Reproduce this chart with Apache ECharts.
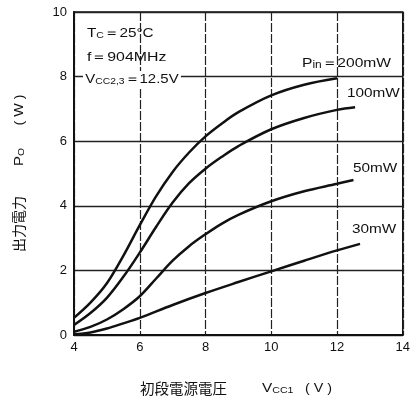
<!DOCTYPE html>
<html><head><meta charset="utf-8">
<script src="https://cdn.jsdelivr.net/npm/echarts@6/dist/echarts.min.js"></script>
<style>html,body{margin:0;padding:0;background:#fff}#c{width:413px;height:410px}</style>
</head><body><div id="c"></div>
<script>
const xTicks = [4, 6, 8, 10, 12, 14];
const yTicks = [0, 2, 4, 6, 8, 10];
const p200 = [[4,0.53],[4.5,1.0],[5,1.6],[5.5,2.45],[6,3.4],[6.5,4.3],[7,5.05],[7.5,5.65],[8,6.15],[8.5,6.55],[9,6.9],[10,7.42],[11,7.75],[12,7.95]];
const p100 = [[4,0.31],[4.5,0.68],[5,1.15],[5.5,1.8],[6,2.55],[6.5,3.35],[7,4.1],[7.5,4.7],[8,5.15],[8.5,5.52],[9,5.85],[10,6.37],[11,6.72],[12,6.97],[12.55,7.05]];
const p50 = [[4,0.1],[4.5,0.25],[5,0.48],[5.5,0.8],[6,1.2],[6.5,1.75],[7,2.3],[7.5,2.75],[8,3.12],[8.5,3.45],[9,3.72],[10,4.14],[11,4.45],[12,4.68],[12.5,4.8]];
const p30 = [[4,0.02],[4.5,0.08],[5,0.2],[5.5,0.36],[6,0.53],[7,0.93],[8,1.3],[9,1.64],[10,1.97],[11,2.3],[12,2.62],[12.7,2.82]];
const seriesNames = ['200mW', '100mW', '50mW', '30mW'];

const font = 'Liberation Sans, Arial, sans-serif';
const cjk = 'Noto Sans CJK JP';
const chart = echarts.init(document.getElementById('c'));
const mk = (name, data) => ({
  name, type: 'line', data, smooth: 0.35, symbol: 'none',
  lineStyle: {color: '#111', width: 2.5}, z: 5
});
const sub = (sz, pad) => ({fontSize: sz, fontFamily: font, fill: '#111', padding: [pad, 0, 0, 0]});
const txt = (x, y, text, opts) => Object.assign({
  type: 'text', x, y, scaleX: 1.18, z: 10,
  style: Object.assign({text, fontSize: 13, fontFamily: font, fill: '#111', verticalAlign: 'middle'}, (opts && opts.style) || {})
}, (opts && opts.el) || {});

chart.setOption({
  animation: false,
  backgroundColor: '#fff',
  grid: {left: 74, right: 7, top: 12, bottom: 75, show: true, borderColor: '#111', borderWidth: 1.5},
  xAxis: {
    type: 'value', min: 4, max: 14, interval: 2,
    axisLine: {show: true, lineStyle: {color: '#111', width: 2}},
    axisTick: {show: false},
    splitLine: {show: true, lineStyle: {color: '#222', width: 1.2, type: [9, 2]}},
    axisLabel: {color: '#111', fontSize: 13, fontFamily: font, margin: 6}
  },
  yAxis: {
    type: 'value', min: 0, max: 10, interval: 2,
    axisLine: {show: true, lineStyle: {color: '#111', width: 2}},
    axisTick: {show: false},
    splitLine: {show: true, lineStyle: {color: '#222', width: 1.3}},
    axisLabel: {color: '#111', fontSize: 13, fontFamily: font, margin: 7}
  },
  graphic: [
    txt(87, 33, '{n|T}{s|C}{n|＝25°C}', {style: {rich: {n: {fontSize: 13, fontFamily: font, fill: '#111'}, s: sub(9, 5)}}}),
    txt(87, 57, 'f＝904MHz', {el: {scaleX: 1.22}}),
    txt(83, 79, '{n|V}{s|CC2,3}{n|＝12.5V}', {el: {scaleX: 1.15}, style: {backgroundColor: '#fff', padding: [1, 2, 1, 2], rich: {n: {fontSize: 13, fontFamily: font, fill: '#111'}, s: sub(9, 5)}}}),
    txt(302, 63, '{n|P}{s|in}{n|＝' + seriesNames[0] + '}', {el: {scaleX: 1.2}, style: {rich: {n: {fontSize: 13, fontFamily: font, fill: '#111'}, s: sub(10, 4)}}}),
    txt(347, 93, seriesNames[1]),
    txt(353, 168, seriesNames[2]),
    txt(352, 229, seriesNames[3]),
    // x-axis title
    {type: 'text', x: 140, y: 388, z: 10, style: {text: '初段電源電圧', fontSize: 14.5, fontFamily: cjk, fill: '#111', verticalAlign: 'middle'}},
    txt(262, 388, '{n|V}{s|CC1}', {style: {rich: {n: {fontSize: 13, fontFamily: font, fill: '#111'}, s: sub(9, 5)}}}),
    txt(305, 388, '( V )', {el: {scaleX: 1.1}}),
    // y-axis title (rotated)
    {type: 'text', x: 19, y: 224, rotation: Math.PI / 2, z: 10, style: {text: '出力電力', fontSize: 14, fontFamily: cjk, fill: '#111', align: 'center', verticalAlign: 'middle'}},
    {type: 'text', x: 19, y: 157, rotation: Math.PI / 2, scaleX: 1.15, z: 10, style: {text: '{n|P}{s|O}', align: 'center', verticalAlign: 'middle', rich: {n: {fontSize: 13, fontFamily: font, fill: '#111'}, s: sub(9, 5)}}},
    {type: 'text', x: 19, y: 110, rotation: Math.PI / 2, scaleX: 1.1, z: 10, style: {text: '( W )', fontSize: 13, fontFamily: font, fill: '#111', align: 'center', verticalAlign: 'middle'}}
  ],
  series: [mk(seriesNames[0], p200), mk(seriesNames[1], p100), mk(seriesNames[2], p50), mk(seriesNames[3], p30)]
});
</script></body></html>
